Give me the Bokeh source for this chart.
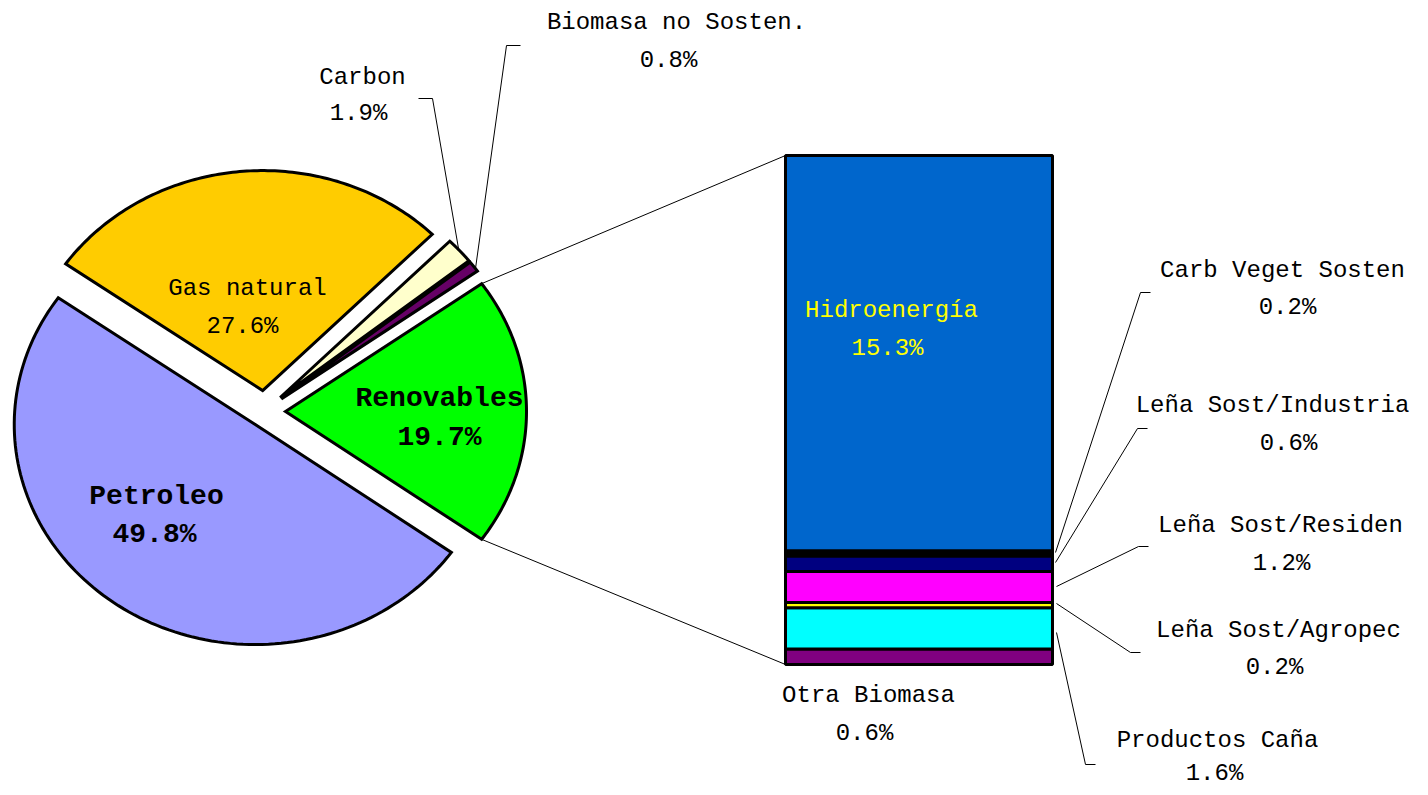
import numpy as np
from bokeh.plotting import figure
from bokeh.models import Range1d
from bokeh.embed import file_html
from bokeh.resources import INLINE
from bokeh.core.properties import value

# ---------------- data ----------------
pie_labels = ["Renovables", "Biomasa no Sosten.", "Carbon", "Gas natural", "Petroleo"]
pie_values = [19.7, 0.8, 1.9, 27.6, 49.8]
pie_colors = ["#00FF00", "#660066", "#FFFFCC", "#FFCC00", "#9999FF"]

bar_labels = ["Otra Biomasa", "Productos Caña", "Leña Sost/Agropec", "Leña Sost/Residen",
              "Leña Sost/Industria", "Carb Veget Sosten", "Hidroenergía"]
bar_values = [0.6, 1.6, 0.2, 1.2, 0.6, 0.2, 15.3]
bar_colors = ["#800080", "#00FFFF", "#FFFF00", "#FF00FF", "#000080", "#000000", "#0066CC"]

# ---------------- layout ----------------
W, H = 1412, 787
FONT = value("Liberation Mono")
p = figure(width=W, height=H, x_range=Range1d(0, W), y_range=Range1d(H, 0),
           output_backend="svg", toolbar_location=None, min_border=0)
p.axis.visible = False
p.grid.visible = False
p.outline_line_color = None
p.background_fill_color = "white"

# pie
cx, cy = 264, 411
rx, ry = 241, 220
explode = [21, 21, 21, 21, 16]
total = sum(pie_values)
start = -pie_values[0] / total * 360 / 2
xs, ys, arc_ends = [], [], []
for v, e in zip(pie_values, explode):
    a0, a1 = start, start + v / total * 360
    mid = np.radians((a0 + a1) / 2)
    vx, vy = cx + e * np.cos(mid), cy - e * np.sin(mid)
    t = np.radians(np.linspace(a0, a1, 120))
    xs.append([vx] + list(vx + rx * np.cos(t)))
    ys.append([vy] + list(vy - ry * np.sin(t)))
    arc_ends.append(((xs[-1][1], ys[-1][1]), (xs[-1][-1], ys[-1][-1])))
    start = a1
p.patches(xs, ys, fill_color=pie_colors, line_color="black", line_width=3, line_join="miter")

# bar
bx0, bx1, by_bot, by_top = 785, 1052, 664, 155
scale = (by_bot - by_top) / sum(bar_values)
cum = np.concatenate([[0], np.cumsum(bar_values)])
bottoms = by_bot - cum[:-1] * scale
tops = by_bot - cum[1:] * scale
p.quad(left=bx0, right=bx1, bottom=bottoms, top=tops, fill_color=bar_colors,
       line_color="black", line_width=3)

# connectors pie -> bar
(r_bot, r_top) = arc_ends[0]
p.segment(x0=[r_top[0], r_bot[0]], y0=[r_top[1], r_bot[1]],
          x1=[bx0, bx0], y1=[by_top, by_bot], line_color="black", line_width=1)

# leader lines
lead_x = [[475, 506, 520], [458, 432, 418],
          [1055, 1140, 1150], [1055, 1137, 1147], [1056, 1138, 1148],
          [1056, 1130, 1140], [1056, 1085, 1095]]
lead_y = [[268, 45, 45], [248, 98, 98],
          [552, 292, 292], [562, 428, 428], [586, 546, 546],
          [603, 652, 652], [632, 764, 764]]
p.multi_line(lead_x, lead_y, line_color="black", line_width=1)

pct = lambda v: f"{v:.1f}%"

# outside labels
out_names = ["Biomasa no Sosten.", "Carbon", "Carb Veget Sosten", "Leña Sost/Industria",
             "Leña Sost/Residen", "Leña Sost/Agropec", "Productos Caña", "Otra Biomasa"]
out_vals = [pie_values[1], pie_values[2], bar_values[5], bar_values[4], bar_values[3],
            bar_values[2], bar_values[1], bar_values[0]]
name_x = [676, 362, 1282, 1272, 1280, 1278, 1217, 868]
name_y = [22, 77, 270, 405, 525, 630, 740, 695]
val_x = [668, 358, 1287, 1288, 1281, 1274, 1214, 864]
val_y = [60, 113, 307, 443, 563, 667, 773, 733]
p.text(name_x, name_y, text=out_names, text_align="center", text_baseline="middle",
       text_font=FONT, text_font_size="24px", text_color="black")
p.text(val_x, val_y, text=[pct(v) for v in out_vals], text_align="center",
       text_baseline="middle", text_font=FONT, text_font_size="24px", text_color="black")

# inside labels
p.text([247, 891], [288, 310], text=[pie_labels[3], bar_labels[6]], text_align="center",
       text_baseline="middle", text_font=FONT, text_font_size="24px",
       text_color=["black", "#FFFF00"])
p.text([242, 887], [326, 348], text=[pct(pie_values[3]), pct(bar_values[6])],
       text_align="center", text_baseline="middle", text_font=FONT, text_font_size="24px",
       text_color=["black", "#FFFF00"])
p.text([439, 156], [398, 496], text=[pie_labels[0], pie_labels[4]], text_align="center",
       text_baseline="middle", text_font=FONT, text_font_size="28px", text_font_style="bold",
       text_color="black")
p.text([439, 154], [437, 534], text=[pct(pie_values[0]), pct(pie_values[4])],
       text_align="center", text_baseline="middle", text_font=FONT, text_font_size="28px",
       text_font_style="bold", text_color="black")

open("out.html", "w").write(file_html(p, INLINE))
